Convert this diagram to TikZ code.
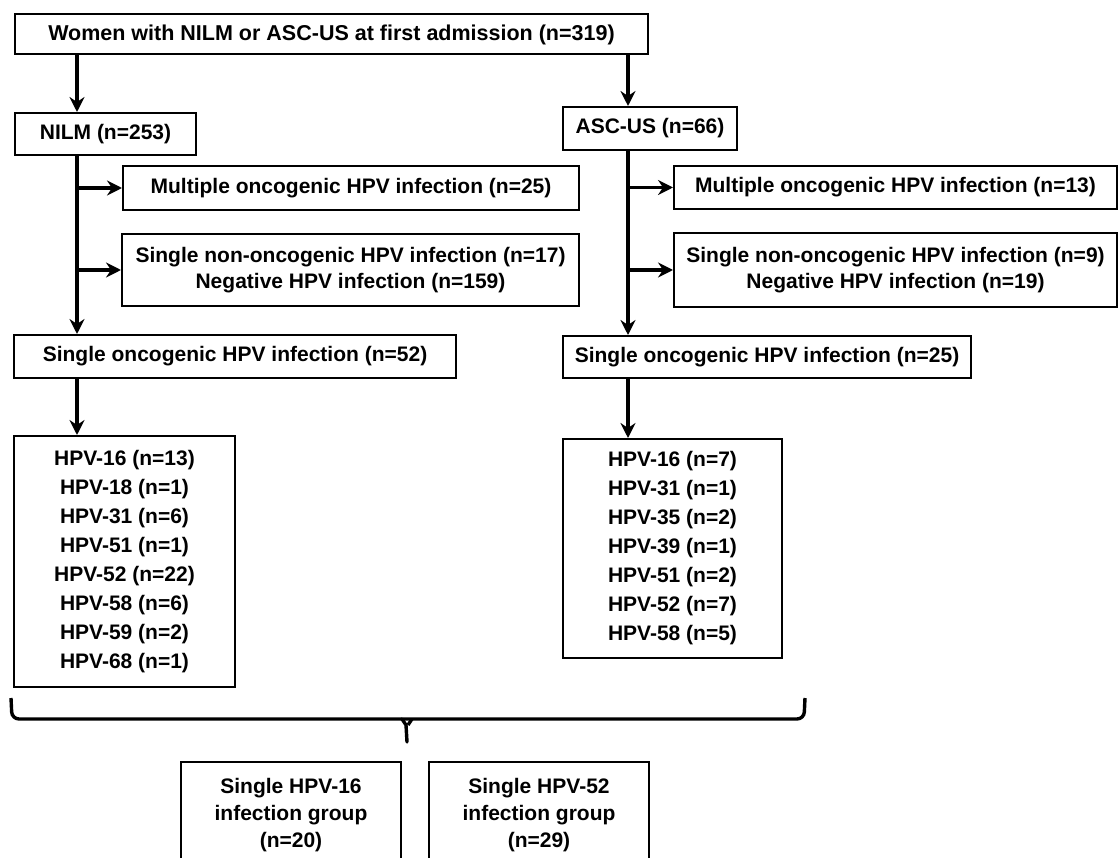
\documentclass[tikz,border=0pt]{standalone}
\usepackage{fontspec}
\setmainfont{Liberation Sans}
\usetikzlibrary{arrows.meta,calc}
\begin{document}
\begin{tikzpicture}[x=1pt,y=-1pt,
  box/.style={draw=black, line width=2pt, inner sep=0pt, align=center,
    font=\bfseries\fontsize{21}{26}\selectfont},
  listbox/.style={box, font=\bfseries\fontsize{21}{29}\selectfont},
  txt/.style={inner sep=0pt, align=center, font=\bfseries\fontsize{21}{27}\selectfont},
  arr/.style={line width=3.4pt, -{Stealth[length=15pt,width=15pt,inset=5pt]}},
  bracepath/.style={line width=3.4pt},
  openbox/.style={draw=black, line width=2pt}]
\useasboundingbox (0,0) rectangle (1120,858);
\clip (0,0) rectangle (1120,858);
\fill[white] (0,0) rectangle (1120,858);

\node[box, font=\bfseries\fontsize{21.5}{26}\selectfont, minimum width=633pt, minimum height=40pt] (top) at (331.5,34.5)
  {Women with NILM or ASC-US at first admission (n=319)};
\node[box, minimum width=181pt, minimum height=42pt] (nilm) at (105.5,134) {NILM (n=253)};
\node[box, minimum width=174pt, minimum height=43pt] (ascus) at (650,128.5) {ASC-US (n=66)};

\node[box, minimum width=456pt, minimum height=44pt] (m1) at (351,188)
  {Multiple oncogenic HPV infection (n=25)};
\node[box, minimum width=457pt, minimum height=72pt] (s1) at (350.5,270)
  {Single non-oncogenic HPV infection (n=17)\\Negative HPV infection (n=159)};
\node[box, minimum width=442pt, minimum height=43pt] (o1) at (235,356.5)
  {Single oncogenic HPV infection (n=52)};

\node[box, minimum width=443pt, minimum height=43pt] (m2) at (895.5,187.5)
  {Multiple oncogenic HPV infection (n=13)};
\node[box, minimum width=443pt, minimum height=74pt] (s2) at (895.5,270)
  {Single non-oncogenic HPV infection (n=9)\\Negative HPV infection (n=19)};
\node[box, minimum width=408pt, minimum height=42pt] (o2) at (767,357)
  {Single oncogenic HPV infection (n=25)};

\node[listbox, minimum width=221pt, minimum height=251pt] (l1) at (124.5,561.5)
  {HPV-16 (n=13)\\HPV-18 (n=1)\\HPV-31 (n=6)\\HPV-51 (n=1)\\HPV-52 (n=22)\\HPV-58 (n=6)\\HPV-59 (n=2)\\HPV-68 (n=1)};
\node[listbox, minimum width=219pt, minimum height=219pt] (l2) at (672.5,548.5)
  {HPV-16 (n=7)\\HPV-31 (n=1)\\HPV-35 (n=2)\\HPV-39 (n=1)\\HPV-51 (n=2)\\HPV-52 (n=7)\\HPV-58 (n=5)};

% bottom group boxes (open at the bottom edge of the picture)
\node[txt] (g1) at (291,815) {Single HPV-16\\infection group\\(n=20)};
\node[txt] (g2) at (539,815) {Single HPV-52\\infection group\\(n=29)};
\draw[openbox] (181,875) -- (181,762) -- (401,762) -- (401,875);
\draw[openbox] (429,875) -- (429,762) -- (649,762) -- (649,875);

% connectors
\coordinate (xl) at (77,0);
\coordinate (xr) at (628,0);
\draw[arr] (top.south -| xl) -- (nilm.north -| xl);
\draw[arr] (top.south -| xr) -- (ascus.north -| xr);

\draw[arr] (nilm.south -| xl) -- (o1.north -| xl);
\coordinate (j1) at (m1.west -| xl);
\coordinate (j2) at (s1.west -| xl);
\draw[arr] (j1) -- (m1.west);
\draw[arr] (j2) -- (s1.west);
\draw[arr] (o1.south -| xl) -- (l1.north -| xl);

\draw[arr] (ascus.south -| xr) -- (o2.north -| xr);
\coordinate (k1) at (m2.west -| xr);
\coordinate (k2) at (s2.west -| xr);
\draw[arr] (k1) -- (m2.west);
\draw[arr] (k2) -- (s2.west);
\draw[arr] (o2.south -| xr) -- (l2.north -| xr);

% brace
\draw[bracepath, rounded corners=7pt] (11,698) -- (12,719) -- (804,719) -- (805,698);
\draw[bracepath, line cap=round] (402,719) -- (406,725) -- (407,742);
\draw[bracepath] (412,719) -- (408,725);
\end{tikzpicture}
\end{document}
